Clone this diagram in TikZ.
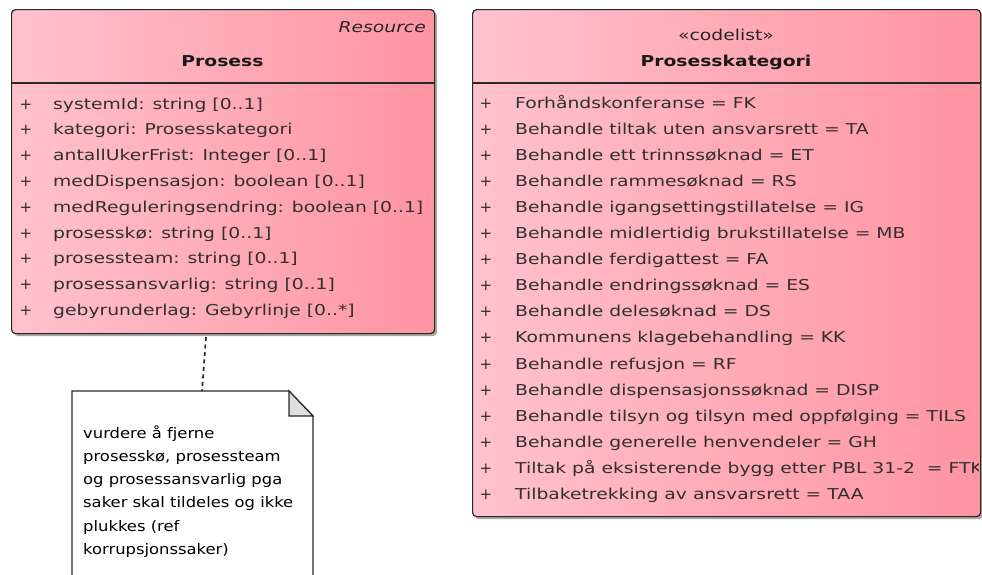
\documentclass[tikz,border=0pt]{standalone}
\usepackage{fontspec}
\setmainfont{DejaVu Sans}
\usetikzlibrary{shadows}
\newcommand\wide[1]{\scalebox{1.25}[1]{#1}}
\newcommand\notewide[1]{\scalebox{1.13}[1]{#1}}
\definecolor{pinkL}{RGB}{255,194,205}
\definecolor{pinkR}{RGB}{255,148,162}
\definecolor{rowtext}{RGB}{48,48,48}
\definecolor{edge}{RGB}{40,40,40}
\definecolor{fold}{RGB}{222,222,222}
\tikzset{
  umlbox/.style={rectangle, draw=edge, line width=1.2pt, rounded corners=4pt,
    left color=pinkL, right color=pinkR, anchor=north west,
    drop shadow={shadow xshift=2.5pt, shadow yshift=-2.5pt, opacity=.35, fill=black}},
  rowfont/.style={font=\fontsize{15}{18}\selectfont, text=rowtext, inner sep=0pt},
  attr/.style={rowfont, anchor=base west},
  plus/.style={rowfont, anchor=base},
  title/.style={font=\fontsize{15}{18}\selectfont\bfseries, text=black!90, inner sep=0pt, anchor=base},
  notetext/.style={font=\fontsize{14.5}{18}\selectfont, text=black, inner sep=0pt, anchor=base west},
  notelink/.style={draw=edge, line width=1.7pt, dash pattern=on 4pt off 3.5pt},
}
\begin{document}
\begin{tikzpicture}[x=1pt,y=-1pt]
\useasboundingbox (0,0) rectangle (982,574);
\clip (0,0) rectangle (982,574);

% class Prosess
\node[umlbox, minimum width=423, minimum height=324] (prosess) at (11,9) {};
\draw[edge, line width=1.2pt] (prosess.west |- 0,83) -- (prosess.east |- 0,83);
\node[rowfont, font=\fontsize{15}{18}\selectfont\itshape, text=black!85, anchor=base east] (res) at (426,32) {\wide{Resource}};
\node[title] (prosess-name) at (222.5,66) {\wide{Prosess}};
\foreach \t [count=\i from 0] in {
  {systemId: string [0..1]},
  {kategori: Prosesskategori},
  {antallUkerFrist: Integer [0..1]},
  {medDispensasjon: boolean [0..1]},
  {medReguleringsendring: boolean [0..1]},
  {prosesskø: string [0..1]},
  {prosessteam: string [0..1]},
  {prosessansvarlig: string [0..1]},
  {gebyrunderlag: Gebyrlinje [0..*]}} {
  \node[plus] (pp-\i) at (26,109+25.8*\i) {+};
  \node[attr] (p-\i) at (53,109+25.8*\i) {\wide{\t}};
}

% codelist Prosesskategori
\node[umlbox, minimum width=508, minimum height=507] (kat) at (472,9) {};
\draw[edge, line width=1.2pt] (kat.west |- 0,83) -- (kat.east |- 0,83);
\node[title, font=\fontsize{15}{18}\selectfont, text=black!85] (kat-st) at (726,40) {\wide{«codelist»}};
\node[title] (kat-name) at (726,66) {\wide{Prosesskategori}};
\begin{scope}
\clip (473,84) rectangle (978.5,514);
\foreach \t [count=\i from 0] in {
  {Forhåndskonferanse = FK},
  {Behandle tiltak uten ansvarsrett = TA},
  {Behandle ett trinnssøknad = ET},
  {Behandle rammesøknad = RS},
  {Behandle igangsettingstillatelse = IG},
  {Behandle midlertidig brukstillatelse = MB},
  {Behandle ferdigattest = FA},
  {Behandle endringssøknad = ES},
  {Behandle delesøknad = DS},
  {Kommunens klagebehandling = KK},
  {Behandle refusjon = RF},
  {Behandle dispensasjonssøknad = DISP},
  {Behandle tilsyn og tilsyn med oppfølging = TILS},
  {Behandle generelle henvendeler = GH},
  {Tiltak på eksisterende bygg etter PBL 31-2~ = FTK},
  {Tilbaketrekking av ansvarsrett = TAA}} {
  \node[plus] (kp-\i) at (486,108+26.1*\i) {+};
  \node[attr] (k-\i) at (515,108+26.1*\i) {\wide{\t}};
}
\end{scope}

% note with folded corner
\coordinate (note-nw) at (72,391);
\coordinate (note-fold) at (289,391);
\coordinate (note-fold2) at (313,416);
\coordinate (note-se) at (313,600);
\draw[edge, line width=1.3pt, fill=white]
  (note-nw) -- (note-fold) -- (note-fold2) -- (note-se) -- (note-nw |- note-se) -- cycle;
\draw[edge, line width=1.2pt, fill=fold]
  (note-fold) -- (note-fold |- note-fold2) -- (note-fold2) -- cycle;
\foreach \t [count=\i from 0] in {
  {vurdere å fjerne},
  {prosesskø, prosessteam},
  {og prosessansvarlig pga},
  {saker skal tildeles og ikke},
  {plukkes (ref},
  {korrupsjonssaker)}} {
  \node[notetext] (n-\i) at (83,438+23.3*\i) {\notewide{\t}};
}
\coordinate (link-top) at (206,337);
\draw[notelink] (link-top) -- (202,391);
\end{tikzpicture}
\end{document}
